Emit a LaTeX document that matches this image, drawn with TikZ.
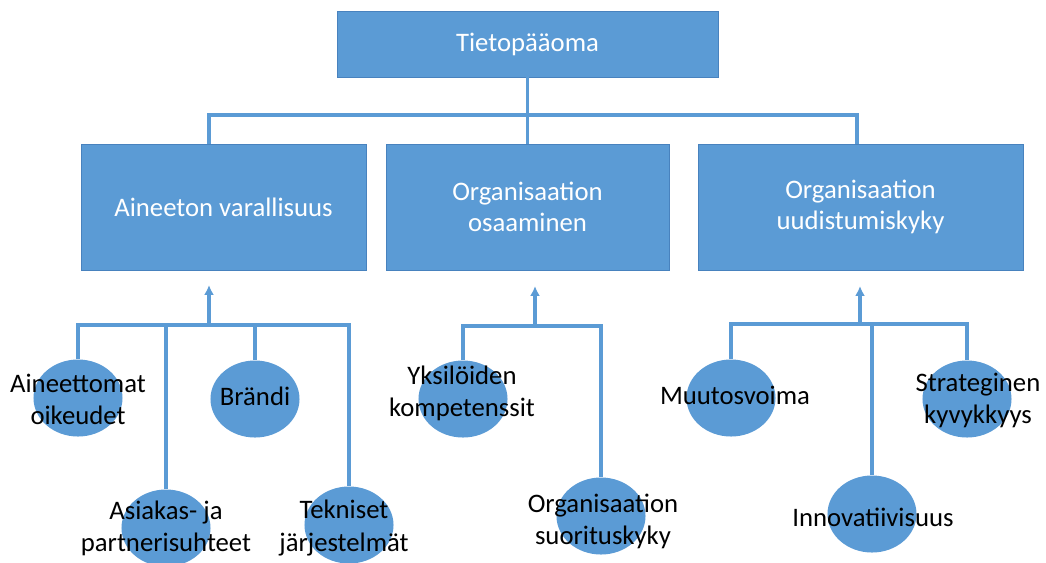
\documentclass[tikz,border=0pt]{standalone}
\usepackage{fontspec}
\setmainfont{Carlito}
\usetikzlibrary{shapes.geometric,arrows.meta}
\definecolor{officeblue}{RGB}{91,155,213}
\definecolor{edgeblue}{RGB}{72,130,190}
\begin{document}
\begin{tikzpicture}[
        x=0.025cm, y=-0.025cm,
        box/.style={rectangle, draw=edgeblue, line width=0.4pt, fill=officeblue, text=white,
            align=center, font=\fontsize{19}{22.5}\selectfont},
        bubble/.style={ellipse, fill=officeblue, minimum width=2.225cm, minimum height=1.925cm, inner sep=0pt},
        txt/.style={align=center, inner sep=0pt, font=\fontsize{19}{22.8}\selectfont},
        link/.style={draw=officeblue, line width=2.4pt},
        up/.style={link, -{Latex[length=7pt,width=7pt]}}
    ]
    \clip (0,0) rectangle (1046,562);
    \fill[white] (0,0) rectangle (1046,562);

    % top level
    \node[box, minimum width=9.525cm, minimum height=1.65cm] (top) at (527.5,44) {Tietopääoma};
    \node[box, minimum width=7.125cm, minimum height=3.15cm] (b1) at (223.5,207) {Aineeton varallisuus};
    \node[box, minimum width=7.075cm, minimum height=3.15cm] (b2) at (527.5,207) {Organisaation\\osaaminen};
    \node[box, minimum width=8.125cm, minimum height=3.15cm] (b3) at (860.5,207) {Organisaation\\uudistumiskyky};

    \coordinate (h) at (527.5,115);
    \coordinate (d1) at (209,144);
    \coordinate (d3) at (857,144);
    \draw[link] (top.south) -- (b2.north);
    \draw[link] (d1) -- (d1 |- h) -- (d3 |- h) -- (d3);

    % Aineeton varallisuus
    \node[bubble] (e1) at (78,398) {};
    \node[bubble] (e2) at (166,528) {};
    \node[bubble] (e3) at (255,399) {};
    \node[bubble] (e4) at (349,525) {};
    \node[txt] (te1) at (78,399) {Aineettomat\\oikeudet};
    \node[txt] (te2) at (166,528.5) {Asiakas- ja\\partnerisuhteet};
    \node[txt] (te3) at (255,396) {Brändi};
    \node[txt] (te4) at (344,528) {Tekniset\\järjestelmät};
    \coordinate (j1) at (209,325);
    \coordinate (a1) at (209,285);
    \draw[link] (e1.north) -- (e1.north |- j1) -- (e4.north |- j1) -- (e4.north);
    \draw[link] (e2.north) -- (e2.north |- j1);
    \draw[link] (e3.north) -- (e3.north |- j1);
    \draw[up] (j1) -- (a1);

    % Organisaation osaaminen
    \node[bubble] (f1) at (463,399) {};
    \node[bubble] (f2) at (601,516) {};
    \node[txt] (tf1) at (462,393) {Yksilöiden\\kompetenssit};
    \node[txt] (tf2) at (603,521.5) {Organisaation\\suorituskyky};
    \coordinate (j2) at (535,326);
    \coordinate (a2) at (535,286);
    \draw[link] (f1.north) -- (f1.north |- j2) -- (f2.north |- j2) -- (f2.north);
    \draw[up] (j2) -- (a2);

    % Organisaation uudistumiskyky
    \node[bubble] (g1) at (731,398) {};
    \node[bubble] (g2) at (872,514) {};
    \node[bubble] (g3) at (967,399) {};
    \node[txt] (tg1) at (735,395) {Muutosvoima};
    \node[txt] (tg2) at (873,517) {Innovatiivisuus};
    \node[txt] (tg3) at (978,400) {Strateginen\\kyvykkyys};
    \coordinate (j3) at (860,324);
    \coordinate (a3) at (860,286);
    \draw[link] (g1.north) -- (g1.north |- j3) -- (g3.north |- j3) -- (g3.north);
    \draw[link] (g2.north) -- (g2.north |- j3);
    \draw[up] (j3) -- (a3);
\end{tikzpicture}
\end{document}
